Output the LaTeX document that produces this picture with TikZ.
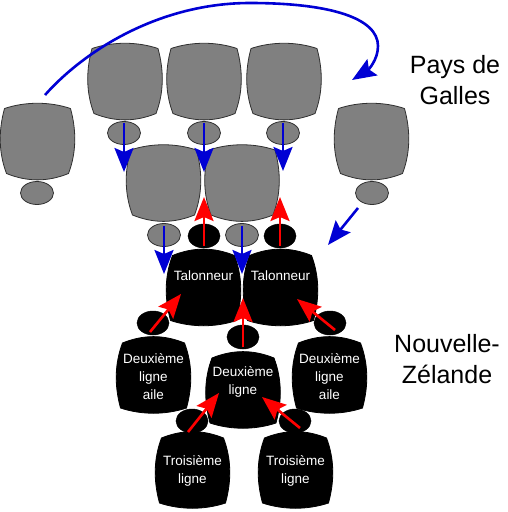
\documentclass[tikz,border=0pt]{standalone}
\usepackage{fontspec}
\setmainfont{Liberation Sans}
\usetikzlibrary{arrows.meta,shapes.geometric}
\definecolor{wgray}{HTML}{808080}
\definecolor{wline}{HTML}{303030}
\definecolor{myblue}{HTML}{0000D4}
\definecolor{myred}{HTML}{FF0000}
\tikzset{
  wfill/.style={fill=wgray, draw=wline, line width=0.8pt, line join=round},
  nfill/.style={fill=black, draw=black, line width=0.8pt, line join=round},
  wbody/.pic={
    \path[wfill] (-33,-33) .. controls (-12,-40) and (12,-40) .. (33,-33)
      .. controls (39,-11) and (39,11) .. (31,32)
      .. controls (10,40.5) and (-10,40.5) .. (-31,32)
      .. controls (-39,11) and (-39,-11) .. cycle;
    \coordinate (-c) at (0,0);
  },
  nbody/.pic={
    \path[nfill] (-33,33) .. controls (-12,40) and (12,40) .. (33,33)
      .. controls (39,11) and (39,-11) .. (31,-32)
      .. controls (10,-40.5) and (-10,-40.5) .. (-31,-32)
      .. controls (-39,-11) and (-39,11) .. cycle;
    \coordinate (-c) at (0,0);
  },
  whead/.style={ellipse, fill=wgray, draw=wline, line width=0.8pt,
    minimum width=33pt, minimum height=23pt, inner sep=0pt},
  nhead/.style={ellipse, fill=black, draw=black, line width=0.5pt,
    minimum width=32pt, minimum height=24pt, inner sep=0pt},
  ntext/.style={text=white, font=\fontsize{13.5}{18}\selectfont, align=center, inner sep=0pt},
  team/.style={font=\fontsize{25}{31}\selectfont, align=center, inner sep=0pt},
  tipbig/.tip={Stealth[length=24pt,width=19pt,inset=4pt]},
  barrow/.style={draw=myblue, line width=2.6pt, -tipbig},
  rarrow/.style={draw=myred, line width=2.6pt, -tipbig}
}
\begin{document}
\begin{tikzpicture}[x=1pt, y=-1pt]
\useasboundingbox (0,0) rectangle (507,512);
% Wales bodies
\pic (wa) at (125,81.5) {wbody};
\pic (wb) at (204,81.5) {wbody};
\pic (wc) at (284,81.5) {wbody};
\pic (wl) at (37.5,141.5) {wbody};
\pic (wr) at (371.5,141.5) {wbody};
% Wales heads row 1
\node[whead] (hwa) at (124,133) {};
\node[whead] (hwb) at (204,133) {};
\node[whead] (hwc) at (283,133) {};
\node[whead] (hwl) at (37,193) {};
\node[whead] (hwr) at (372,193) {};
% Wales row 2
\pic (wd) at (163.5,183) {wbody};
\pic (we) at (242,183) {wbody};
\node[whead] (hwd) at (164,235) {};
\node[whead] (hwe) at (242,235) {};
% NZ
\pic (ta) at (203.5,287.5) {nbody};
\pic (tb) at (280.5,287.5) {nbody};
\node[nhead] (hta) at (204,236) {};
\node[nhead] (htb) at (280,236) {};
\pic (al) at (153.5,375) {nbody};
\pic (ar) at (329.5,375) {nbody};
\pic (dc) at (243,390) {nbody};
\node[nhead] (hal) at (153,323) {};
\node[nhead] (har) at (330,323) {};
\node[nhead] (hdc) at (243,337) {};
\pic (tl) at (192.5,470) {nbody};
\pic (tr) at (295.5,470) {nbody};
\node[nhead] (htl) at (192,421) {};
\node[nhead] (htr) at (295,421) {};
% texts
\node[ntext] (lta) at (203.5,276) {Talonneur};
\node[ntext] (ltb) at (280.5,276) {Talonneur};
\node[ntext] (lal) at (153.5,377) {Deuxième\\ligne\\aile};
\node[ntext] (lar) at (329.5,377) {Deuxième\\ligne\\aile};
\node[ntext] (ldc) at (243,382) {Deuxième\\ligne};
\node[ntext] (ltl) at (192.5,471) {Troisième\\ligne};
\node[ntext] (ltr) at (295.5,471) {Troisième\\ligne};
\node[team] (wales) at (455,80) {Pays de\\Galles};
\node[team] (nz) at (447,359) {Nouvelle-\\Zélande};
% arrow end coordinates
\coordinate (s1) at (124,123); \coordinate (e1) at (124,172);
\coordinate (s2) at (204,123); \coordinate (e2) at (204,172);
\coordinate (s3) at (283,123); \coordinate (e3) at (283,171);
\coordinate (s4) at (164,226); \coordinate (e4) at (164,274);
\coordinate (s5) at (242,226); \coordinate (e5) at (242,274);
\coordinate (s6) at (358,208); \coordinate (e6) at (328,245);
\coordinate (cs) at (45,95); \coordinate (ce) at (352,80);
\coordinate (r1s) at (204,246); \coordinate (r1e) at (204,197);
\coordinate (r2s) at (280,246); \coordinate (r2e) at (280,197);
\coordinate (r3s) at (150,332); \coordinate (r3e) at (181,294);
\coordinate (r4s) at (243,347); \coordinate (r4e) at (243,298);
\coordinate (r5s) at (335,330); \coordinate (r5e) at (297,299);
\coordinate (r6s) at (188,432); \coordinate (r6e) at (219,393);
\coordinate (r7s) at (300,428); \coordinate (r7e) at (262,397);
% blue arrows
\draw[barrow] (s1) -- (e1);
\draw[barrow] (s2) -- (e2);
\draw[barrow] (s3) -- (e3);
\draw[barrow] (s4) -- (e4);
\draw[barrow] (s5) -- (e5);
\draw[barrow] (s6) -- (e6);
\draw[barrow] (cs) .. controls (85,50) and (160,3) .. (250,3)
  .. controls (330,3) and (378,18) .. (378,46)
  .. controls (378,60) and (368,70) .. (ce);
% red arrows
\draw[rarrow] (r1s) -- (r1e);
\draw[rarrow] (r2s) -- (r2e);
\draw[rarrow] (r3s) -- (r3e);
\draw[rarrow] (r4s) -- (r4e);
\draw[rarrow] (r5s) -- (r5e);
\draw[rarrow] (r6s) -- (r6e);
\draw[rarrow] (r7s) -- (r7e);
\end{tikzpicture}
\end{document}
